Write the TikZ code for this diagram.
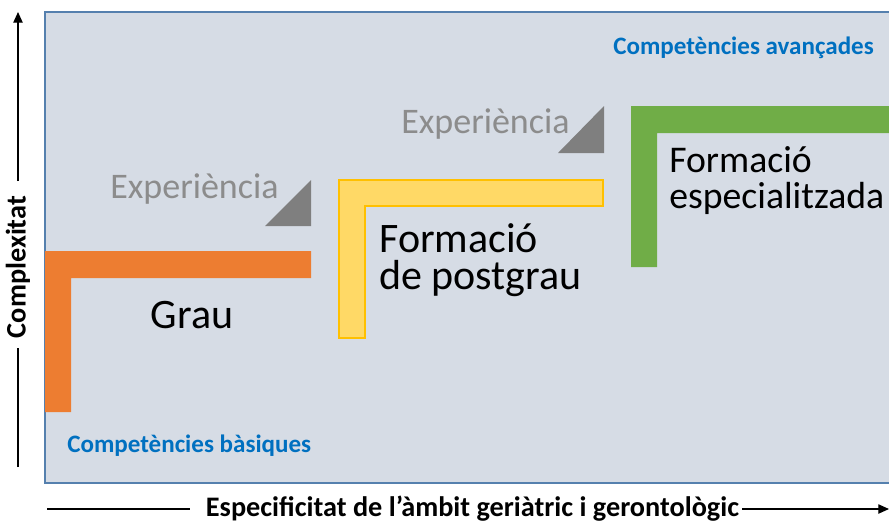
\documentclass[tikz,border=0pt]{standalone}
\usepackage{fontspec}
\setmainfont{Carlito}
\usetikzlibrary{arrows.meta}
\definecolor{bgfill}{HTML}{D6DCE5}
\definecolor{bgline}{HTML}{5580AE}
\definecolor{orangebar}{HTML}{ED7D31}
\definecolor{yellowbar}{HTML}{FFD966}
\definecolor{yellowline}{HTML}{FFC000}
\definecolor{greenbar}{HTML}{70AD47}
\definecolor{graytri}{HTML}{7F7F7F}
\definecolor{graytext}{HTML}{8C8C8C}
\definecolor{bluetext}{HTML}{0070C0}
\tikzset{
  axisline/.style={line width=0.9pt},
  axisarrow/.style={line width=0.9pt, -{Triangle[length=8pt,width=7pt]}},
  axislabel/.style={inner sep=0pt, font=\fontsize{21.2}{24}\selectfont\bfseries},
  bigtext/.style={font=\fontsize{31.5}{27.5}\selectfont, align=left, inner sep=0pt},
  spectext/.style={font=\fontsize{28.3}{26.5}\selectfont, align=left, inner sep=0pt},
  exptext/.style={font=\fontsize{27}{30}\selectfont, text=graytext, inner sep=0pt},
  comptext/.style={font=\fontsize{18.8}{22}\selectfont\bfseries, text=bluetext, inner sep=0pt},
}
\begin{document}
\begin{tikzpicture}[x=0.75pt,y=-0.75pt]
\useasboundingbox (0,0) rectangle (889,522);
\begin{scope}
\clip (0,0) rectangle (889,522);
\path[fill=bgfill, draw=bgline, line width=1.5pt] (45,12) rectangle (900,483);
% orange L
\fill[orangebar] (45,251) -- (311,251) -- (311,278) -- (71,278) -- (71,412) -- (45,412) -- cycle;
% yellow L
\path[fill=yellowbar, draw=yellowline, line width=1.2pt] (339,180) -- (603,180) -- (603,206) -- (365,206) -- (365,338) -- (339,338) -- cycle;
% green L
\fill[greenbar] (631,106) -- (900,106) -- (900,133) -- (657,133) -- (657,267) -- (631,267) -- cycle;
% triangles
\fill[graytri] (265,226) -- (311,226) -- (311,180) -- cycle;
\fill[graytri] (558,153) -- (604,153) -- (604,106) -- cycle;
\end{scope}
% texts
\node[bigtext, anchor=base] (grau) at (192,328) {Grau};
\node[bigtext, anchor=base west] (postgrau) at (379,289) {Formació\\de postgrau};
\node[spectext, anchor=base west] (espec) at (669,208) {Formació\\especialitzada};
\node[exptext, anchor=base west] (exp1) at (110,198) {Experiència};
\node[exptext, anchor=base west] (exp2) at (401,133) {Experiència};
\node[comptext, anchor=base west] (avan) at (613,54) {Competències avançades};
\node[comptext, anchor=base west] (basi) at (67,452) {Competències bàsiques};
% axes
\coordinate (ystart) at (18,467);
\coordinate (yend) at (18,12);
\coordinate (xstart) at (47,509);
\coordinate (xend) at (889,509);
\node[axislabel, rotate=90] (ylab) at (18,267) {Complexitat};
\node[axislabel] (xlab) at (472.5,509) {Especificitat de l’àmbit geriàtric i gerontològic};
\draw[axisline, shorten >=7pt] (ystart) -- (ylab.west);
\draw[axisarrow, shorten <=11pt] (ylab.east) -- (yend);
\draw[axisline, shorten >=12pt] (xstart) -- (xlab.west);
\draw[axisarrow, shorten <=2pt] (xlab.east) -- (xend);
\end{tikzpicture}
\end{document}
